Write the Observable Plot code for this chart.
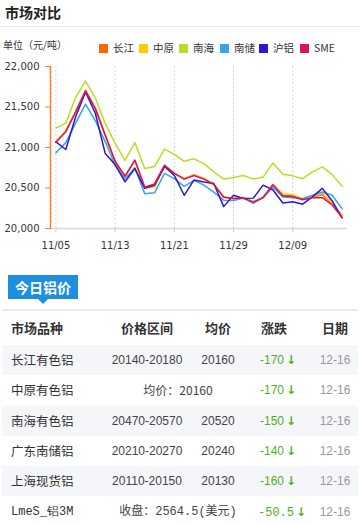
<!DOCTYPE html>
<html><head><meta charset="utf-8">
<script src="https://cdn.jsdelivr.net/npm/d3@7"></script>
<script src="https://cdn.jsdelivr.net/npm/@observablehq/plot@0.6"></script>
<style>
body{margin:0;background:#fff;width:360px;height:525px;overflow:hidden;position:relative;font-family:"Noto Sans CJK SC","DejaVu Sans",sans-serif;color:#333}
.abs{position:absolute;white-space:nowrap}
#title{left:5px;top:2px;font-size:14px;font-weight:bold;color:#222;line-height:20px}
#sep1{left:0;top:26px;width:360px;height:1px;background:#ececec}
#unit{left:3px;top:38px;font-size:10px;line-height:14px;color:#333}
#legend{left:99px;top:41px;font-size:10.5px;line-height:14px;color:#333}
.lg{position:absolute;top:0;white-space:nowrap}
.sw{display:inline-block;width:9px;height:9px;margin-right:5px;vertical-align:-1px}
#chart{left:0;top:55px}
#tab{left:8px;top:275px;width:70px;height:24px;background:#1e8fdf;color:#fff;font-weight:bold;font-size:14px;line-height:24px;text-align:center}
#tri{left:38px;top:299px;width:0;height:0;border-left:5px solid transparent;border-right:5px solid transparent;border-top:5px solid #1e8fdf}
#sep2{left:2px;top:309px;width:356px;height:2px;background:#eaebf2}
.row{position:absolute;left:2px;width:356px;height:30px}
.cell{position:absolute;top:0;line-height:30px;white-space:nowrap}
</style></head>
<body>
<div id="title" class="abs">市场对比</div>
<div id="sep1" class="abs"></div>
<div id="unit" class="abs">单位（元/吨）</div>
<div id="legend" class="abs"></div>
<div id="chart" class="abs"></div>
<div id="tab" class="abs">今日铝价</div>
<div id="tri" class="abs"></div>
<div id="sep2" class="abs"></div>
<div id="table"></div>
<script>
// ---- chart data ----
const dates = ["11/05","11/06","11/07","11/08","11/11","11/12","11/13","11/14","11/15","11/18","11/19","11/20","11/21","11/22","11/25","11/26","11/27","11/28","11/29","12/02","12/03","12/04","12/05","12/06","12/09","12/10","12/11","12/12","12/13","12/16"];
const tickDates = ["11/05","11/13","11/21","11/29","12/09"];
const yTicks = [20000,20500,21000,21500,22000];
const seriesNames = ["长江","中原","南海","南储","沪铝","SME"];
const seriesColors = ["#ff6600","#ffcc00","#b5e022","#35a6e6","#3314d0","#d8145e"];
const changjiang = [21070,21200,21440,21705,21480,21150,20820,20640,20840,20510,20545,20780,20680,20615,20660,20615,20545,20390,20370,20380,20330,20380,20540,20410,20400,20360,20385,20420,20300,20160];
const zhongyuan  = [21075,21205,21445,21700,21470,21140,20820,20640,20835,20505,20505,20775,20685,20610,20665,20620,20550,20395,20365,20385,20335,20375,20545,20425,20420,20365,20390,20440,20310,20160];
const nanhai     = [21240,21300,21620,21820,21610,21295,21050,20840,21060,20740,20765,20980,20915,20830,20860,20800,20700,20610,20630,20655,20610,20635,20810,20670,20650,20615,20700,20760,20665,20520];
const nanchu     = [20935,21060,21300,21535,21330,21070,20780,20610,20750,20430,20440,20680,20615,20520,20595,20535,20450,20350,20345,20375,20310,20380,20510,20390,20380,20370,20410,20450,20410,20245];
const hulv       = [21070,20975,21380,21685,21420,20925,20790,20575,20740,20495,20535,20765,20655,20410,20600,20575,20555,20270,20410,20370,20375,20535,20475,20315,20330,20300,20390,20495,20340,20130];
const sme        = [21065,21195,21440,21700,21480,21150,20830,20645,20845,20510,20550,20780,20680,20610,20655,20610,20545,20385,20370,20375,20325,20385,20540,20400,20395,20355,20380,20380,20290,20135];
const seriesValues = [changjiang,zhongyuan,nanhai,nanchu,hulv,sme];

// ---- table data ----
const headLabels = ["市场品种","价格区间","均价","涨跌","日期"];
const rowNames = ["长江有色铝","中原有色铝","南海有色铝","广东南储铝","上海现货铝","LmeS_铝3M"];
const rowRanges = ["20140-20180",null,"20470-20570","20210-20270","20110-20150",null];
const rowAvgs = ["20160","20160","20520","20240","20130","2564.5"];
const rowMerged = [null,"均价：20160",null,null,null,"收盘：2564.5(美元)"];
const rowChanges = ["-170","-170","-150","-140","-160","-50.5"];
const rowDates = ["12-16","12-16","12-16","12-16","12-16","12-16"];

// legend
const lg = document.getElementById("legend");
const lgX = [0,40,80,121,160,201];
seriesNames.forEach((n,i)=>{
  const d = document.createElement("div");
  d.className="lg"; d.style.left = lgX[i]+"px";
  d.innerHTML = `<span class="sw" style="background:${seriesColors[i]}"></span>${n}`;
  lg.appendChild(d);
});

const data = seriesNames.flatMap((name,i)=>seriesValues[i].map((v,j)=>({name,date:dates[j],value:v})));

const chart = Plot.plot({
  width:360, height:200,
  marginTop:11, marginBottom:27, marginLeft:50, marginRight:13,
  style:{fontFamily:"DejaVu Sans, Verdana, sans-serif", fontSize:"10px", color:"#333", background:"transparent"},
  x:{type:"point", domain:dates, padding:0.55, round:false},
  y:{domain:[20000,22000]},
  color:{domain:seriesNames, range:seriesColors},
  marks:[
    Plot.ruleX(tickDates,{stroke:"#d4d4d4", strokeDasharray:"2,2"}),
    Plot.ruleY([20000],{stroke:"#d9d9d9", strokeWidth:1.5}),
    Plot.frame({anchor:"left", stroke:"#ff7f27", strokeWidth:1.5}),
    Plot.axisY({ticks:yTicks, tickFormat:d3.format(","), tickSize:5, tickPadding:6, stroke:"#ff7f27", fill:"#333", label:null}),
    Plot.axisX({ticks:tickDates, tickSize:4, tickPadding:9, stroke:"#ccc", fill:"#333", label:null}),
    Plot.line(data,{x:"date", y:"value", z:"name", stroke:"name", strokeWidth:1.5})
  ]
});
document.getElementById("chart").appendChild(chart);

// table
const tbl = document.getElementById("table");
function addRow(top, bg, html){
  const r = document.createElement("div");
  r.className="row"; r.style.top = top+"px"; r.style.background = bg;
  r.innerHTML = html; tbl.appendChild(r);
}
const cx = [9,145,216,258,333];
addRow(313,"#fff",
  `<div class="cell" style="left:${cx[0]}px;font-size:13px;font-weight:bold;color:#333">${headLabels[0]}</div>`+
  [1,2,3,4].map(k=>`<div class="cell" style="left:${k===3?272:cx[k]}px;transform:translateX(-50%);font-size:13px;font-weight:bold;color:#333">${headLabels[k]}</div>`).join(""));
rowNames.forEach((n,i)=>{
  const top = 345 + i*30.3;
  const bg = i%2===0 ? "#f5f6f9" : "#fff";
  const isLme = i===5;
  const nameFont = isLme ? `font-family:'Liberation Mono','DejaVu Sans Mono',monospace;font-size:12px` : `font-size:12.5px`;
  let mid = "";
  if(rowMerged[i]){
    mid = `<div class="cell" style="left:176px;transform:translateX(-50%);font-size:12px;color:#444;${isLme?"font-family:'Liberation Mono','Noto Sans CJK SC',monospace;":""}">${rowMerged[i]}</div>`;
  } else {
    mid = `<div class="cell" style="left:${cx[1]}px;transform:translateX(-50%);font-family:'Liberation Sans',sans-serif;font-size:12px;color:#444">${rowRanges[i]}</div>`+
          `<div class="cell" style="left:${cx[2]}px;transform:translateX(-50%);font-family:'Liberation Sans',sans-serif;font-size:12px;color:#444">${rowAvgs[i]}</div>`;
  }
  const chg = `<div class="cell" style="left:${isLme?256:258}px;font-family:${isLme?"'Liberation Mono',monospace":"'Liberation Sans',sans-serif"};font-size:12px;color:#56ad1f">${rowChanges[i]}<span style="font-weight:bold;margin-left:2px;font-family:'DejaVu Sans'">↓</span></div>`;
  const dt = `<div class="cell" style="left:${cx[4]}px;transform:translateX(-50%);font-family:'Liberation Sans',sans-serif;font-size:12px;color:#999">${rowDates[i]}</div>`;
  addRow(top,bg,`<div class="cell" style="left:${cx[0]}px;${nameFont};color:#333">${n}</div>`+mid+chg+dt);
});
</script>
</body></html>
